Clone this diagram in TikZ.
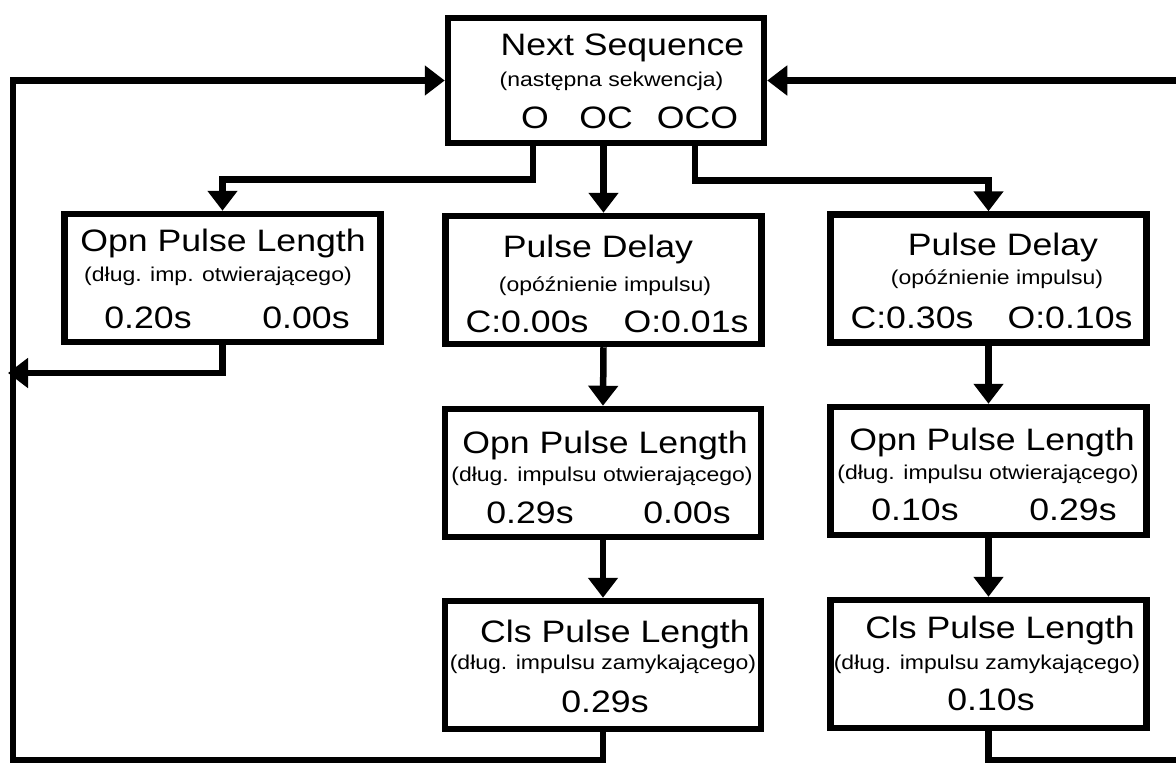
\documentclass[tikz,border=0pt]{standalone}
\usepackage{fontspec}
\setmainfont[FakeStretch=1.15]{Liberation Sans}
\usetikzlibrary{arrows.meta}
\begin{document}
\begin{tikzpicture}[x=1pt,y=-1pt,
  box/.style={draw, line width=6.5pt, minimum width=316pt, minimum height=128pt, inner sep=0pt},
  big/.style={anchor=base, inner sep=0pt, font=\fontsize{31}{31}\selectfont},
  small/.style={anchor=base, inner sep=0pt, font=\fontsize{20}{20}\selectfont},
  conn/.style={line width=6.5pt},
  arr/.style={conn, -{Triangle[width=29pt,length=20pt]}}
]
\useasboundingbox (0,0) rectangle (1176,763);

% top box
\node[box, minimum height=125pt] (top) at (606,80.5) {};
\node[big] (t1) at (622.5,55) {Next Sequence};
\node[small] (t2) at (611.5,86) {(następna sekwencja)};
\node[big] (t3a) at (535,128) {O};
\node[big] (t3b) at (606,128) {OC};
\node[big] (t3c) at (697.5,128) {OCO};

% left box
\node[box] (lb) at (222.5,278) {};
\node[big] (l1) at (223,251) {Opn Pulse Length};
\node[small] (l2) at (218,281) {(dług. imp. otwierającego)};
\node[big] (l3a) at (148,328) {0.20s};
\node[big] (l3b) at (306,328) {0.00s};

% middle column
\node[box] (mpd) at (603.5,280) {};
\node[big] (m11) at (598,257) {Pulse Delay};
\node[small] (m12) at (605,291) {(opóźnienie impulsu)};
\node[big] (m13a) at (527,332) {C:0.00s};
\node[big] (m13b) at (686,332) {O:0.01s};

\node[box] (mop) at (603,473) {};
\node[big] (m21) at (605,453) {Opn Pulse Length};
\node[small] (m22) at (602,481) {(dług. impulsu otwierającego)};
\node[big] (m23a) at (530,523) {0.29s};
\node[big] (m23b) at (687,523) {0.00s};

\node[box] (mcl) at (603,665) {};
\node[big] (m31) at (615,642) {Cls Pulse Length};
\node[small] (m32) at (603,669) {(dług. impulsu zamykającego)};
\node[big] (m33) at (605,712) {0.29s};

% right column
\node[box] (rpd) at (988.5,278.5) {};
\node[big] (r11) at (1003,255) {Pulse Delay};
\node[small] (r12) at (997,284) {(opóźnienie impulsu)};
\node[big] (r13a) at (912,328) {C:0.30s};
\node[big] (r13b) at (1070,328) {O:0.10s};

\node[box] (rop) at (988.5,471) {};
\node[big] (r21) at (992,450) {Opn Pulse Length};
\node[small] (r22) at (988,479) {(dług. impulsu otwierającego)};
\node[big] (r23a) at (915,520) {0.10s};
\node[big] (r23b) at (1073,520) {0.29s};

\node[box] (rcl) at (988.5,664) {};
\node[big] (r31) at (1000,638) {Cls Pulse Length};
\node[small] (r32) at (987,669) {(dług. impulsu zamykającego)};
\node[big] (r33) at (991,710) {0.10s};

% helper coordinates
\coordinate (lret) at (8,373);
\coordinate (bl) at (13,760);
\coordinate (br) at (1190,760);

% connectors from top box
\draw[arr] ([xshift=-73pt]top.south) -- ++(0,33) -| (lb.north);
\draw[arr] (top.south -| mpd.north) -- (mpd.north);
\draw[arr] ([xshift=89pt]top.south) -- ++(0,34) -| (rpd.north);

% column arrows
\draw[arr] (mpd.south) -- (mop.north);
\draw[arr] (mop.south) -- (mcl.north);
\draw[arr] (rpd.south) -- (rop.north);
\draw[arr] (rop.south) -- (rcl.north);

% returns
\draw[arr] (lb.south) |- (lret);
\draw[arr] (mcl.south) |- (bl) |- (top.west);
\draw[arr] (rcl.south) |- (br) |- (top.east);
\end{tikzpicture}
\end{document}
